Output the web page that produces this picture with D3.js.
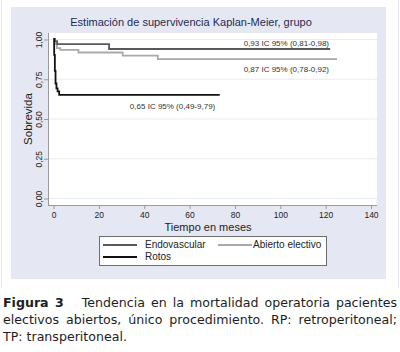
<!DOCTYPE html>
<html>
<head>
<meta charset="utf-8">
<script src="https://cdn.jsdelivr.net/npm/d3@7"></script>
<style>
  html, body { margin: 0; padding: 0; background: #fff; }
  body { width: 400px; height: 352px; position: relative; overflow: hidden; }
  #caption {
    position: absolute; left: 3px; top: 294px; width: 394px;
    font-family: "DejaVu Sans", sans-serif; font-size: 12.6px; line-height: 17px;
    color: #1e1e1e;
  }
  #caption .j { text-align: justify; text-align-last: justify; white-space: nowrap; }
  #caption .l { text-align: left; white-space: nowrap; }
  #caption .fig { font-weight: bold; margin-right: 18px; }
</style>
</head>
<body>
<svg id="chart" width="400" height="292" style="position:absolute;left:0;top:0"></svg>
<div id="caption"></div>
<script>
// ---- data ----
const title = "Estimación de supervivencia Kaplan-Meier, grupo";
const xTicks = [0, 20, 40, 60, 80, 100, 120, 140];
const yTicks = [0, 0.25, 0.5, 0.75, 1];
const yTickLabels = ["0,00", "0,25", "0,50", "0,75", "1,00"];
const seriesNames = ["Endovascular", "Abierto electivo", "Rotos"];

const endoTime = [0, 0.6, 1.6, 24.5, 122];
const endoSurv = [1.0, 0.987, 0.968, 0.937, 0.937];

const abiertoTime = [0, 0.5, 1.5, 3, 11, 30.5, 46, 125];
const abiertoSurv = [1.0, 0.97, 0.943, 0.931, 0.915, 0.895, 0.874, 0.874];

const rotosTime = [0, 0.3, 0.6, 0.9, 1.3, 1.8, 2.5, 73.3];
const rotosSurv = [1.0, 0.90, 0.80, 0.72, 0.69, 0.67, 0.648, 0.648];

const annotTexts = ["0,93 IC 95% (0,81-0,98)", "0,87 IC 95% (0,78-0,92)", "0,65 IC 95% (0,49-9,79)"];
const annotTime = [121.5, 121.5, 52.5];
const annotSurv = [0.972, 0.808, 0.57];

const captionLabel = "Figura 3";
const captionLines = [
  "Tendencia en la mortalidad operatoria pacientes",
  "electivos abiertos, único procedimiento. RP: retroperitoneal;",
  "TP: transperitoneal."
];

// ---- caption ----
const cap = d3.select("#caption");
const l1 = cap.append("div").attr("class", "j");
l1.append("span").attr("class", "fig").text(captionLabel);
l1.append("span").text(captionLines[0]);
cap.append("div").attr("class", "j").text(captionLines[1]);
cap.append("div").attr("class", "l").text(captionLines[2]);

// ---- drawing ----
const svg = d3.select("#chart");
const font = "'Liberation Sans', Arial, sans-serif";

// figure frame faint lines
svg.append("line").attr("x1", 1.5).attr("x2", 1.5).attr("y1", 0).attr("y2", 288).attr("stroke", "#e2e4ea");
svg.append("line").attr("x1", 398.5).attr("x2", 398.5).attr("y1", 0).attr("y2", 288).attr("stroke", "#e2e4ea");

// outer panel
svg.append("rect").attr("x", 11).attr("y", 7).attr("width", 375).attr("height", 272).attr("fill", "#e5e8f2");

const plotL = 48, plotR = 377, plotT = 33, plotB = 205;
svg.append("rect").attr("x", plotL).attr("y", plotT).attr("width", plotR - plotL).attr("height", plotB - plotT).attr("fill", "#fff");

const x = d3.scaleLinear().domain([0, 140]).range([53.5, 371]);
const y = d3.scaleLinear().domain([0, 1]).range([198, 39]);

// gridlines
svg.append("g").selectAll("line").data(yTicks).join("line")
  .attr("x1", plotL).attr("x2", plotR)
  .attr("y1", d => y(d) + 0.5).attr("y2", d => y(d) + 0.5)
  .attr("stroke", "#e8ebf3").attr("stroke-width", 1.2);

// title
svg.append("text").attr("x", 191).attr("y", 26).attr("text-anchor", "middle")
  .attr("font-family", font).attr("font-size", 11).attr("fill", "#1d2b55").text(title);

// axes
const axisColor = "#9a9a9a";
const yAxis = svg.append("g").attr("transform", `translate(${plotL},0)`)
  .call(d3.axisLeft(y).tickValues(yTicks).tickSize(4).tickFormat((d, i) => yTickLabels[i]));
yAxis.select(".domain").remove();
yAxis.selectAll(".tick line").attr("stroke", axisColor).attr("transform", "translate(0,0.5)");
yAxis.selectAll(".tick text")
  .attr("x", null).attr("dy", null)
  .attr("transform", "translate(-6,0.5) rotate(-90)")
  .attr("text-anchor", "middle")
  .attr("font-family", font).attr("font-size", 8.5).attr("fill", "#222");
svg.append("line").attr("x1", plotL + 0.5).attr("x2", plotL + 0.5).attr("y1", plotT).attr("y2", plotB + 0.5).attr("stroke", axisColor);

const xAxis = svg.append("g").attr("transform", `translate(0,${plotB})`)
  .call(d3.axisBottom(x).tickValues(xTicks).tickSize(4).tickFormat(d3.format("d")));
xAxis.select(".domain").remove();
xAxis.selectAll(".tick line").attr("stroke", axisColor);
xAxis.selectAll(".tick text").attr("y", 7).attr("dy", "0.71em")
  .attr("font-family", font).attr("font-size", 8.5).attr("fill", "#222");
svg.append("line").attr("x1", plotL).attr("x2", plotR).attr("y1", plotB + 0.5).attr("y2", plotB + 0.5).attr("stroke", axisColor);

// axis titles
svg.append("text").attr("x", 208).attr("y", 231).attr("text-anchor", "middle")
  .attr("font-family", font).attr("font-size", 11).attr("fill", "#222").text("Tiempo en meses");
svg.append("text").attr("transform", `translate(32,${(plotT + plotB) / 2}) rotate(-90)`).attr("text-anchor", "middle")
  .attr("font-family", font).attr("font-size", 11.5).attr("fill", "#222").text("Sobrevida");

// curves
const line = d3.line().x(d => x(d[0])).y(d => y(d[1])).curve(d3.curveStepAfter);
const series = [
  { name: seriesNames[0], t: endoTime, s: endoSurv, color: "#595959", w: 1.8 },
  { name: seriesNames[1], t: abiertoTime, s: abiertoSurv, color: "#a9a9a9", w: 1.8 },
  { name: seriesNames[2], t: rotosTime, s: rotosSurv, color: "#111", w: 1.8 }
];
[series[1], series[0], series[2]].forEach(sr => {
  svg.append("path").datum(sr.t.map((t, i) => [t, sr.s[i]]))
    .attr("d", line).attr("fill", "none").attr("stroke", sr.color).attr("stroke-width", sr.w);
});

// annotations
svg.append("g").selectAll("text").data(annotTexts).join("text")
  .attr("x", (d, i) => x(annotTime[i])).attr("y", (d, i) => y(annotSurv[i]))
  .attr("text-anchor", (d, i) => i < 2 ? "end" : "middle")
  .attr("dominant-baseline", "middle")
  .attr("font-family", font).attr("font-size", 8).attr("fill", "#333")
  .text(d => d);

// legend
const lg = svg.append("g");
lg.append("rect").attr("x", 99.5).attr("y", 236.5).attr("width", 227).attr("height", 29)
  .attr("fill", "#fff").attr("stroke", "#6e6e6e");
const legendItems = [
  { s: series[0], lx: 103, ly: 245 },
  { s: series[1], lx: 218, ly: 245 },
  { s: series[2], lx: 103, ly: 257 }
];
legendItems.forEach(it => {
  lg.append("line").attr("x1", it.lx).attr("x2", it.lx + 34).attr("y1", it.ly).attr("y2", it.ly)
    .attr("stroke", it.s.color).attr("stroke-width", 1.8);
  lg.append("text").attr("x", it.lx + 35 + (it.s === series[1] ? 0 : 7)).attr("y", it.ly)
    .attr("dominant-baseline", "middle").attr("font-family", font).attr("font-size", 10)
    .attr("fill", "#222").text(it.s.name);
});
</script>
</body>
</html>
